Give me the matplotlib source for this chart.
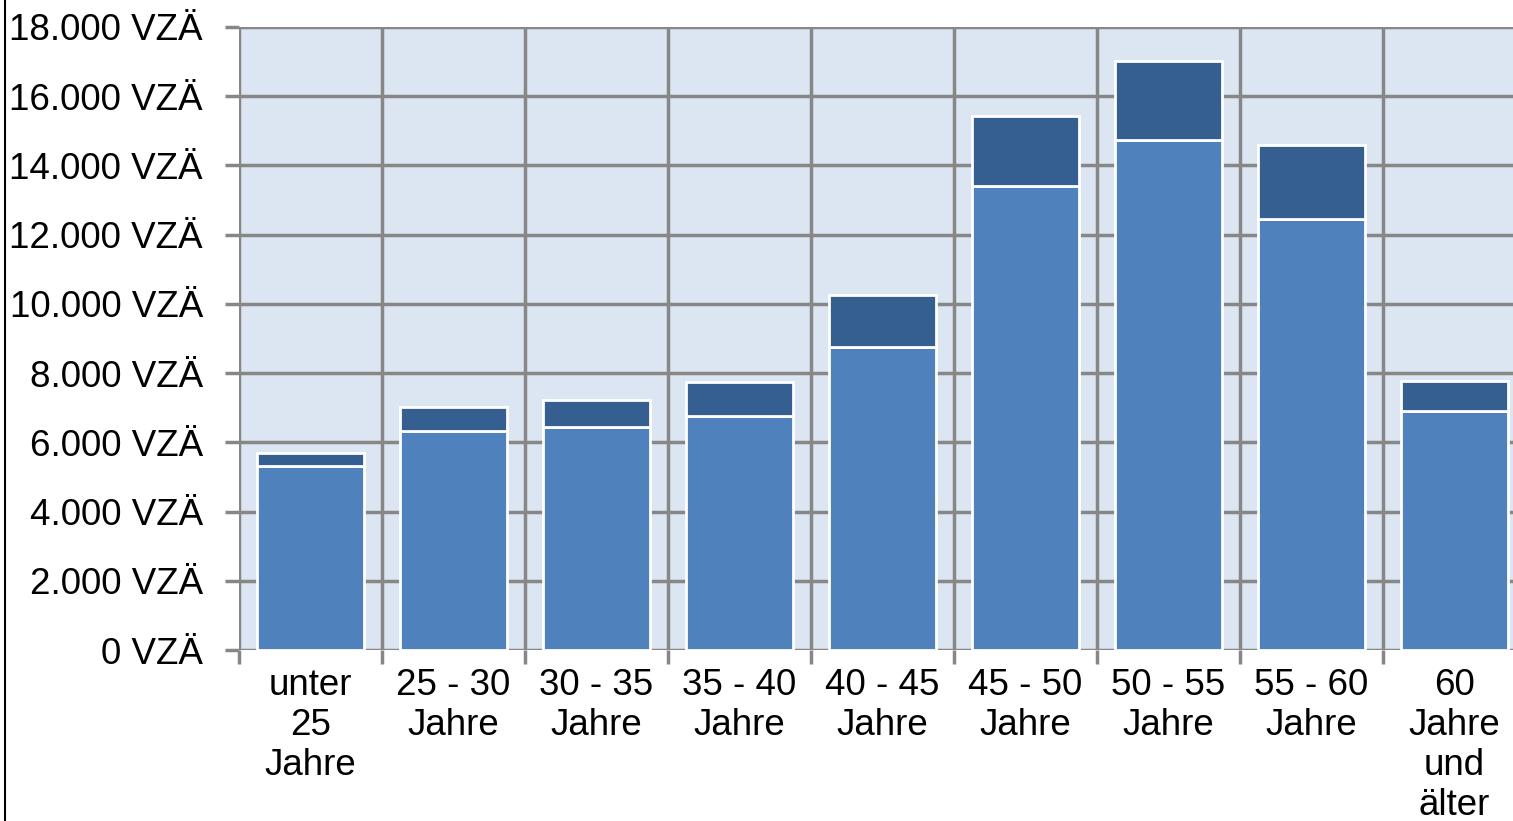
import numpy as np
import matplotlib.pyplot as plt

# age groups and full-time equivalents (VZÄ)
categories = ["unter\n25\nJahre", "25 - 30\nJahre", "30 - 35\nJahre", "35 - 40\nJahre",
              "40 - 45\nJahre", "45 - 50\nJahre", "50 - 55\nJahre", "55 - 60\nJahre",
              "60\nJahre\nund\nälter"]
lower_vals = [5320, 6330, 6440, 6760, 8750, 13410, 14740, 12450, 6910]
totals = [5690, 7020, 7220, 7740, 10260, 15430, 17020, 14590, 7770]
upper_vals = [t - l for t, l in zip(totals, lower_vals)]
yticks = list(range(0, 18001, 2000))
ytick_labels = [f"{v:,}".replace(",", ".") + " VZÄ" for v in yticks]

plt.rcParams['font.family'] = ['Liberation Sans', 'DejaVu Sans']

W, H = 1513, 821
fig = plt.figure(figsize=(W / 100, H / 100), dpi=100)
cat_w = 143.0
left, top, bottom = 239, 27, 650
ax = fig.add_axes([left / W, (H - bottom) / H, (W - left) / W, (bottom - top) / H])
ax.set_facecolor("#dce6f2")

x = np.arange(len(categories))
ax.bar(x, lower_vals, width=0.755, color="#4f81bd", edgecolor="white", linewidth=2, zorder=3)
ax.bar(x, upper_vals, bottom=lower_vals, width=0.755, color="#365f91",
       edgecolor="white", linewidth=2, zorder=3)

ax.set_yticks(yticks)
ax.set_yticklabels(ytick_labels, fontsize=26.5)
ax.set_xticks(x)
ax.set_xticklabels(categories, fontsize=26.5, linespacing=1.18)
ax.set_xticks(np.arange(len(categories) + 1) - 0.5, minor=True)

ax.set_xlim(-0.5, -0.5 + (W - left) / cat_w)
ax.set_ylim(0, 18000)

ax.tick_params(axis="x", which="major", length=0, pad=13)
ax.tick_params(axis="x", which="minor", length=10, width=2.5, color="#878787")
ax.tick_params(axis="y", length=10, width=2.5, color="#878787", pad=16)

ax.grid(axis="y", which="major", color="#878787", linewidth=2.5, zorder=1)
ax.grid(axis="x", which="minor", color="#878787", linewidth=2.5, zorder=1)
ax.set_axisbelow(True)
for s in ax.spines.values():
    s.set_visible(False)

# frame line at the left edge of the picture
fig.add_artist(plt.Line2D([5 / W, 5 / W], [0, 1], color="black", linewidth=1.5))

fig.savefig("out.png", dpi=100)
